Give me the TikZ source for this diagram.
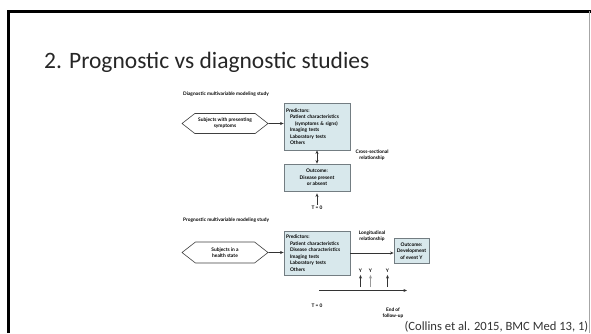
\documentclass[tikz,border=0pt]{standalone}
\usepackage{fontspec}
\setmainfont{Carlito}
\newfontfamily\figfont{Lato}
\usepackage{tikz}
\usetikzlibrary{arrows.meta, positioning, shapes.symbols}
\definecolor{boxfill}{RGB}{216, 232, 236}
\definecolor{boxline}{RGB}{115, 125, 130}

\begin{document}
\begin{tikzpicture}[x=1pt, y=-1pt, >={Stealth[length=3.6pt, width=3pt]},
    predbox/.style={draw=boxline, line width=0.7pt, fill=boxfill, rectangle, inner sep=2pt,
        font=\figfont\bfseries\fontsize{4.9}{6.5}\selectfont},
    hexbox/.style={draw=black!75, line width=0.6pt, fill=white, signal, signal to=west and east,
        signal pointer angle=76, minimum width=86pt, minimum height=20pt, inner sep=1pt,
        align=center, font=\figfont\bfseries\fontsize{4.9}{6}\selectfont},
    lbl/.style={align=center, font=\figfont\bfseries\fontsize{4.8}{6}\selectfont},
    flow/.style={->, line width=0.8pt, draw=black!80}]

    \useasboundingbox (0,0) rectangle (591,333);

    % slide frame
    \draw[line width=2.7pt] (8.3,333) -- (8.3,11.3) -- (591,11.3);
    \draw[black!35, line width=0.8pt] (589,11.3) -- (589,333);

    % title and source
    \node[anchor=west, inner sep=0pt, text=black!85, font=\fontsize{23.5}{27}\selectfont] (title) at (44,62)
        {2. Prognostic vs diagnostic studies};
    \node[anchor=base east, inner sep=0pt, text=black!80, font=\fontsize{12.6}{14}\selectfont] (source) at (588.5,330)
        {(Collins et al. 2015, BMC Med 13, 1)};

    % Diagnostic study
    \node[lbl, anchor=west, inner sep=0pt] (diaglab) at (183,94) {Diagnostic multivariable modeling study};
    \node[hexbox] (subj1) at (225,123.5) {Subjects with presenting\\symptoms};
    \node[predbox, minimum width=66pt, minimum height=47pt, text width=62pt, align=left] (pred1) at (317,126.5)
        {Predictors:\\\hspace*{4pt}Patient characteristics\\\hspace*{9pt}(symptoms \& signs)\\\hspace*{4pt}Imaging tests\\\hspace*{4pt}Laboratory tests\\\hspace*{4pt}Others};
    \node[predbox, minimum width=66pt, minimum height=27pt, align=center] (out1) at (317,177.5)
        {Outcome:\\Disease present\\or absent};
    \node[lbl] (cross) at (372,155) {Cross-sectional\\relationship};
    \node[lbl, inner sep=0pt] (tzero1) at (317,208) {T = 0};

    \draw[flow] (subj1) -- (subj1 -| pred1.west);
    \draw[flow, <->] (pred1) -- (out1);
    \draw[flow] ([yshift=1.5pt]tzero1.north) -- ([yshift=-2pt]out1.south);

    % Prognostic study
    \node[lbl, anchor=west, inner sep=0pt] (proglab) at (183,220) {Prognostic multivariable modeling study};
    \node[hexbox, minimum height=21pt] (subj2) at (225,252.5) {Subjects in a\\health state};
    \node[predbox, minimum width=66pt, minimum height=44pt, text width=62pt, align=left] (pred2) at (317,253)
        {Predictors:\\\hspace*{4pt}Patient characteristics\\\hspace*{4pt}Disease characteristics\\\hspace*{4pt}Imaging tests\\\hspace*{4pt}Laboratory tests\\\hspace*{4pt}Others};
    \node[predbox, minimum width=35pt, minimum height=25pt, inner sep=1pt, align=center] (out2) at (411.5,251)
        {Outcome:\\Development\\of event Y};
    \node[lbl] (longi) at (372,236) {Longitudinal\\relationship};

    \draw[flow] (subj2) -- (subj2 -| pred2.west);
    \draw[flow] (pred2.east) -- (pred2.east -| out2.west);

    % event times
    \node[lbl, inner sep=0pt] (y1) at (360.5,271) {Y};
    \node[lbl, inner sep=0pt] (y2) at (370.5,271) {Y};
    \node[lbl, inner sep=0pt] (y3) at (387.5,271) {Y};
    \coordinate (y1b) at (360.5,287);
    \coordinate (y2b) at (370.5,287);
    \coordinate (y3b) at (387.5,287);
    \draw[flow] (y1b) -- ([yshift=-2pt]y1.south);
    \draw[flow, draw=black!40] (y2b) -- ([yshift=-2pt]y2.south);
    \draw[flow] (y3b) -- ([yshift=-2pt]y3.south);

    % follow-up timeline
    \coordinate (tl0) at (319,290.5);
    \coordinate (tl1) at (407,290.5);
    \draw[flow] (tl0) -- (tl1);
    \node[lbl, inner sep=0pt] (tzero2) at (317,306) {T = 0};
    \node[lbl] (endfu) at (393,313) {End of\\follow-up};

\end{tikzpicture}
\end{document}
